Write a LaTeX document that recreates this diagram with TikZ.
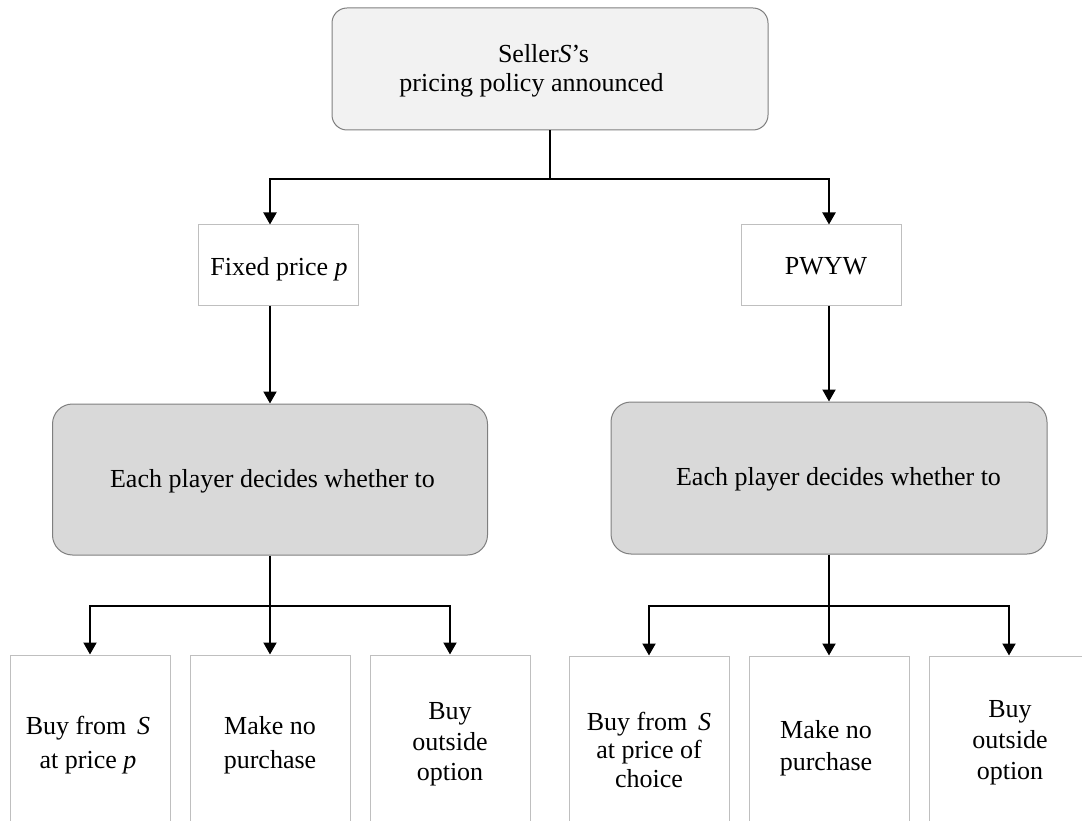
\documentclass[tikz,border=0pt]{standalone}
\usepackage{fontspec}
\setmainfont{Liberation Serif}
\usetikzlibrary{arrows.meta}
\definecolor{topfill}{HTML}{F2F2F2}
\definecolor{shfill}{HTML}{D9D9D9}
\definecolor{edgegray}{HTML}{7F7F7F}
\definecolor{lightedge}{HTML}{BFBFBF}
\begin{document}
\begin{tikzpicture}[x=1pt,y=-1pt,
  conn/.style={line width=2pt, line join=miter},
  arr/.style={conn, -{Triangle[width=13pt,length=12pt]}},
  topbox/.style={draw=edgegray, fill=topfill, rounded corners=15pt, line width=1pt, minimum width=436pt, minimum height=122pt, inner sep=0pt},
  shbox/.style={draw=edgegray, fill=shfill, rounded corners=20pt, line width=1pt, minimum height=151pt, inner sep=0pt},
  midbox/.style={draw=lightedge, line width=1pt, minimum width=160pt, minimum height=80pt, inner sep=0pt},
  leafbox/.style={draw=lightedge, line width=1pt, minimum width=160pt, minimum height=175pt, inner sep=0pt},
  txt/.style={font=\fontsize{26}{30}\selectfont, anchor=base, inner sep=0pt}
]
\useasboundingbox (0,0) rectangle (1082,821);
\clip (0,0) rectangle (1082,821);

% boxes
\node[topbox] (top) at (550,69) {};
\node[midbox] (fixed) at (278,265) {};
\node[midbox] (pwyw) at (821,265) {};
\node[shbox, minimum width=435pt] (shL) at (270,479.5) {};
\node[shbox, minimum width=436pt, minimum height=152pt] (shR) at (829,478) {};
\node[leafbox] (L1) at (90,742.5) {};
\node[leafbox] (L2) at (270,742.5) {};
\node[leafbox] (L3) at (450,742.5) {};
\node[leafbox, minimum height=174pt] (R1) at (649,743) {};
\node[leafbox, minimum height=174pt] (R2) at (829,743) {};
\node[leafbox, minimum height=174pt] (R3) at (1009,743) {};

% texts
\node[txt] (t1) at (543.5,63) {Seller\textit{S}'s};
\node[txt] (t2) at (531.5,92) {pricing policy announced};
\node[txt] (tf) at (279,276) {Fixed price \textit{p}};
\node[txt] (tp) at (826,274) {PWYW};
\node[txt] (tshL) at (272.5,487) {Each player decides whether to};
\node[txt] (tshR) at (838.5,485) {Each player decides whether to};
\node[txt] (l1a) at (88,734) {Buy from \,\textit{S}};
\node[txt] (l1b) at (88,768.5) {at price \textit{p}};
\node[txt] (l2a) at (270,734) {Make no};
\node[txt] (l2b) at (270,768.5) {purchase};
\node[txt] (l3a) at (450,719) {Buy};
\node[txt] (l3b) at (450,750) {outside};
\node[txt] (l3c) at (450,780) {option};
\node[txt] (r1a) at (649,730) {Buy from \,\textit{S}};
\node[txt] (r1b) at (649,758) {at price of};
\node[txt] (r1c) at (649,787) {choice};
\node[txt] (r2a) at (826,738) {Make no};
\node[txt] (r2b) at (826,770) {purchase};
\node[txt] (r3a) at (1010,717) {Buy};
\node[txt] (r3b) at (1010,748) {outside};
\node[txt] (r3c) at (1010,779) {option};

% connectors
\path (top.south) ++(0,49) coordinate (j1);
\draw[conn] (top.south) -- (j1);
\draw[arr] (j1) -| ([xshift=-8pt]fixed.north);
\draw[arr] (j1) -| ([xshift=8pt]pwyw.north);
\draw[arr] (fixed.south -| shL.north) -- (shL.north);
\draw[arr] (pwyw.south -| shR.north) -- (shR.north);

\path (shL.south) ++(0,50) coordinate (j2);
\draw[conn] (shL.south) -- (j2);
\draw[arr] (j2) -| (L1.north);
\draw[arr] (j2) -- (L2.north);
\draw[arr] (j2) -| (L3.north);

\path (shR.south) ++(0,51) coordinate (j3);
\draw[conn] (shR.south) -- (j3);
\draw[arr] (j3) -| (R1.north);
\draw[arr] (j3) -- (R2.north);
\draw[arr] (j3) -| (R3.north);
\end{tikzpicture}
\end{document}
